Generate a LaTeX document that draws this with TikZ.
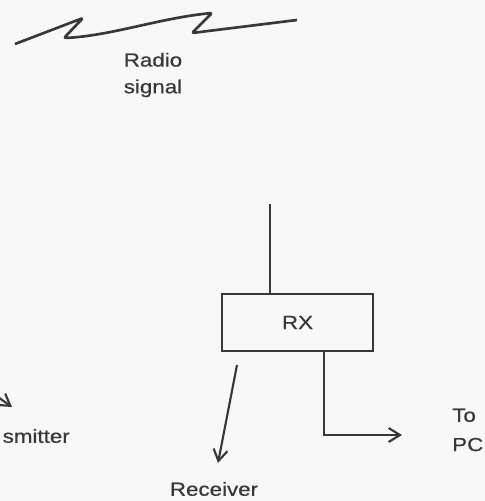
\documentclass[tikz,border=0pt]{standalone}
\usepackage{fontspec}
\setmainfont[FakeStretch=1.18,FakeBold=0.6]{Liberation Sans}
\usetikzlibrary{arrows.meta}
\definecolor{ink}{HTML}{383838}
\definecolor{paper}{HTML}{F8F8F8}
\begin{document}
\begin{tikzpicture}[x=0.75pt,y=-0.75pt,
  line/.style={draw=ink,line width=1.6pt},
  arr/.style={line,-{Straight Barb[length=8.5pt,width=10.5pt,line width=1.6pt]}},
  lbl/.style={text=ink,font=\fontsize{14.2pt}{20pt}\selectfont,inner sep=0pt},
  rxbox/.style={line,minimum width=113.25pt,minimum height=42.75pt,inner sep=0pt}]
\fill[paper] (0,0) rectangle (485,501);
\useasboundingbox (0,0) rectangle (485,501);
\clip (0,0) rectangle (485,501);
% radio signal zigzag
\draw[line,line width=2pt,line join=round,rounded corners=1.5pt] (15,44) -- (83,18) -- (64,38) .. controls (110,36) and (160,18) .. (212,13) -- (192,33) -- (297,20);
\node[lbl,align=center] (radio) at (153,75) {Radio\\signal};
% receiver box
\node[rxbox,lbl] (rx) at (297.5,322.5) {RX};
\coordinate (ant) at (270,204);
\draw[line] (ant) -- (ant |- rx.north);
% output to PC
\coordinate (pcbend) at (324,435);
\coordinate (pcend) at (402,435);
\draw[arr] (rx.south -| pcbend) -- (pcbend) -- (pcend);
\node[lbl,align=left,anchor=west] (topc) at (452,430) {To\\[2pt]PC};
% receiver arrow
\coordinate (rxa) at (237,365);
\coordinate (rxb) at (218,463);
\draw[arr] (rxa) -- (rxb);
\node[lbl] (recv) at (214,489) {Receiver};
% transmitter (cropped)
\coordinate (txa) at (-2,397);
\coordinate (txb) at (12,407);
\draw[arr] (txa) -- (txb);
\node[lbl,anchor=east] (tx) at (70,436) {smitter};
\end{tikzpicture}
\end{document}
